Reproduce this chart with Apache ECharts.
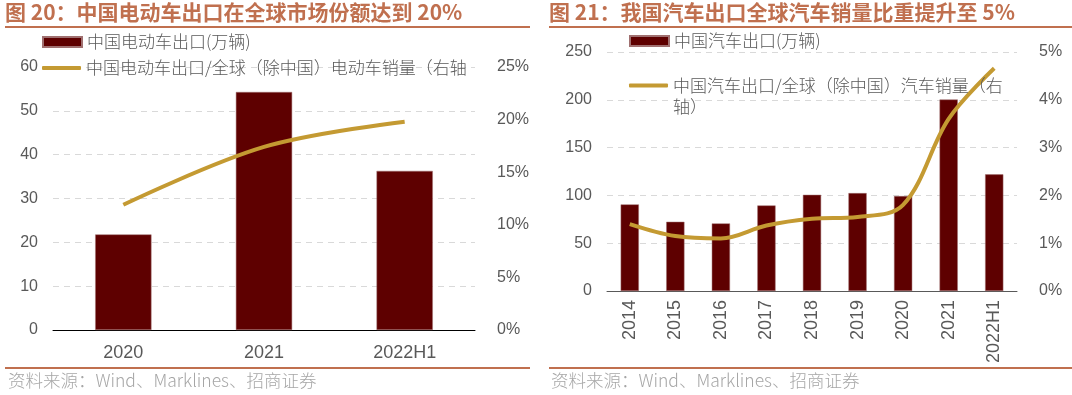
<!DOCTYPE html>
<html><head><meta charset="utf-8">
<script src="https://cdn.jsdelivr.net/npm/echarts@6/dist/echarts.min.js"></script>
<style>html,body{margin:0;padding:0;background:#fff}#c{width:1072px;height:395px}</style>
</head><body><div id="c"></div>
<script>
// Left chart data
const evCats = ['2020', '2021', '2022H1'];
const evExport = [21.8, 54.3, 36.3];
const evShare = [0.119, 0.174, 0.198];
// Right chart data
const carCats = ['2014', '2015', '2016', '2017', '2018', '2019', '2020', '2021', '2022H1'];
const carExport = [90.6, 72.4, 70.7, 89.5, 100.6, 102.4, 99.3, 200.3, 122];
const carShare = [0.0140, 0.0115, 0.0110, 0.0137, 0.0151, 0.0155, 0.0180, 0.0360, 0.0466];
// Texts
const title1 = '图 20：中国电动车出口在全球市场份额达到 20%';
const title2 = '图 21：我国汽车出口全球汽车销量比重提升至 5%';
const source = '资料来源：Wind、Marklines、招商证券';
const evBarName = '中国电动车出口(万辆)';
const evLineName = '中国电动车出口/全球（除中国）电动车销量（右轴';
const carBarName = '中国汽车出口(万辆)';
const carLineName = '中国汽车出口/全球（除中国）汽车销量（右轴）';

const BAR = '#5E0000', GOLD = '#C49A32', ACC = '#C0704F', TXT = '#595959';
const NUMF = '"Liberation Sans", Arial, sans-serif';
const CJKF = '"Noto Sans CJK SC", sans-serif';

const chart = echarts.init(document.getElementById('c'), null, {renderer: 'canvas'});
const pct = v => Math.round(v * 100) + '%';
const axLabel = {color: TXT, fontSize: 16, fontFamily: NUMF};
const xLabel = {color: TXT, fontSize: 18, fontFamily: NUMF};
const legText = {color: TXT, fontSize: 17, fontFamily: CJKF, fontWeight: 300, lineHeight: 20};
function legend(name, left, top, isLine, extra) {
  return Object.assign({
    data: [{name: name, icon: isLine ? 'roundRect' : 'rect'}],
    left: left, top: top, padding: 0, itemWidth: 39, itemHeight: isLine ? 4 : 10, itemGap: 0,
    selectedMode: false, textStyle: legText
  }, extra || {});
}
const option = {
  animation: false,
  textStyle: {fontFamily: NUMF},
  graphic: [
    {type: 'text', left: 5, top: 2, style: {text: title1, fill: ACC, font: 'bold 21px ' + CJKF}},
    {type: 'text', left: 549, top: 2, style: {text: title2, fill: ACC, font: 'bold 21px ' + CJKF}},
    {type: 'rect', shape: {x: 5, y: 26, width: 525, height: 2}, style: {fill: ACC}},
    {type: 'rect', shape: {x: 549, y: 26, width: 523, height: 2}, style: {fill: ACC}},
    {type: 'rect', shape: {x: 5, y: 367, width: 525, height: 2}, style: {fill: ACC}},
    {type: 'rect', shape: {x: 549, y: 367, width: 523, height: 2}, style: {fill: ACC}},
    {type: 'text', left: 8, top: 372, style: {text: source, fill: '#A6A6A6', font: '300 17.5px ' + CJKF}},
    {type: 'text', left: 551, top: 372, style: {text: source, fill: '#A6A6A6', font: '300 17.5px ' + CJKF}}
  ],
  legend: [
    legend(evBarName, 42, 32, false),
    legend(evLineName, 42, 58, true),
    legend(carBarName, 629, 31, false),
    legend(carLineName, 629, 54, true, {
      formatter: n => '\n' + n.slice(0, 20) + '\n' + n.slice(20),
      textStyle: Object.assign({}, legText, {lineHeight: 21})
    })
  ],
  grid: [
    {left: 53, right: 597, top: 67, bottom: 65},
    {left: 607, right: 55, top: 52, bottom: 104}
  ],
  xAxis: [
    {type: 'category', gridIndex: 0, data: evCats,
     axisLine: {lineStyle: {color: '#000', width: 1}}, axisTick: {length: 6, lineStyle: {color: '#000'}},
     axisLabel: Object.assign({margin: 14}, xLabel)},
    {type: 'category', gridIndex: 1, data: carCats,
     axisLine: {lineStyle: {color: '#595959', width: 1}}, axisTick: {length: 6, lineStyle: {color: '#595959'}},
     axisLabel: Object.assign({margin: 9, rotate: 90}, xLabel)}
  ],
  yAxis: [
    {type: 'value', gridIndex: 0, min: 0, max: 60, interval: 10,
     axisLabel: Object.assign({margin: 15}, axLabel),
     splitLine: {lineStyle: {color: '#D9D9D9', type: [6, 5]}}},
    {type: 'value', gridIndex: 0, min: 0, max: 0.25, interval: 0.05, position: 'right',
     axisLabel: Object.assign({margin: 22, formatter: pct}, axLabel), splitLine: {show: false}},
    {type: 'value', gridIndex: 1, min: 0, max: 250, interval: 50,
     axisLabel: Object.assign({margin: 15}, axLabel),
     splitLine: {lineStyle: {color: '#D9D9D9', type: [6, 5]}}},
    {type: 'value', gridIndex: 1, min: 0, max: 0.05, interval: 0.01, position: 'right',
     axisLabel: Object.assign({margin: 22, formatter: pct}, axLabel), splitLine: {show: false}}
  ],
  series: [
    {name: evBarName, type: 'bar', xAxisIndex: 0, yAxisIndex: 0, data: evExport, barWidth: '40%',
     itemStyle: {color: BAR, borderColor: '#A07070', borderWidth: 0.5}},
    {name: evLineName, type: 'line', xAxisIndex: 0, yAxisIndex: 1, data: evShare, smooth: 0.35,
     symbol: 'none', lineStyle: {color: GOLD, width: 4}, itemStyle: {color: GOLD}},
    {name: carBarName, type: 'bar', xAxisIndex: 1, yAxisIndex: 2, data: carExport, barWidth: '40%',
     itemStyle: {color: BAR, borderColor: '#A07070', borderWidth: 0.5}},
    {name: carLineName, type: 'line', xAxisIndex: 1, yAxisIndex: 3, data: carShare, smooth: 0.35,
     symbol: 'none', lineStyle: {color: GOLD, width: 4}, itemStyle: {color: GOLD}}
  ]
};
chart.setOption(option);
</script></body></html>
